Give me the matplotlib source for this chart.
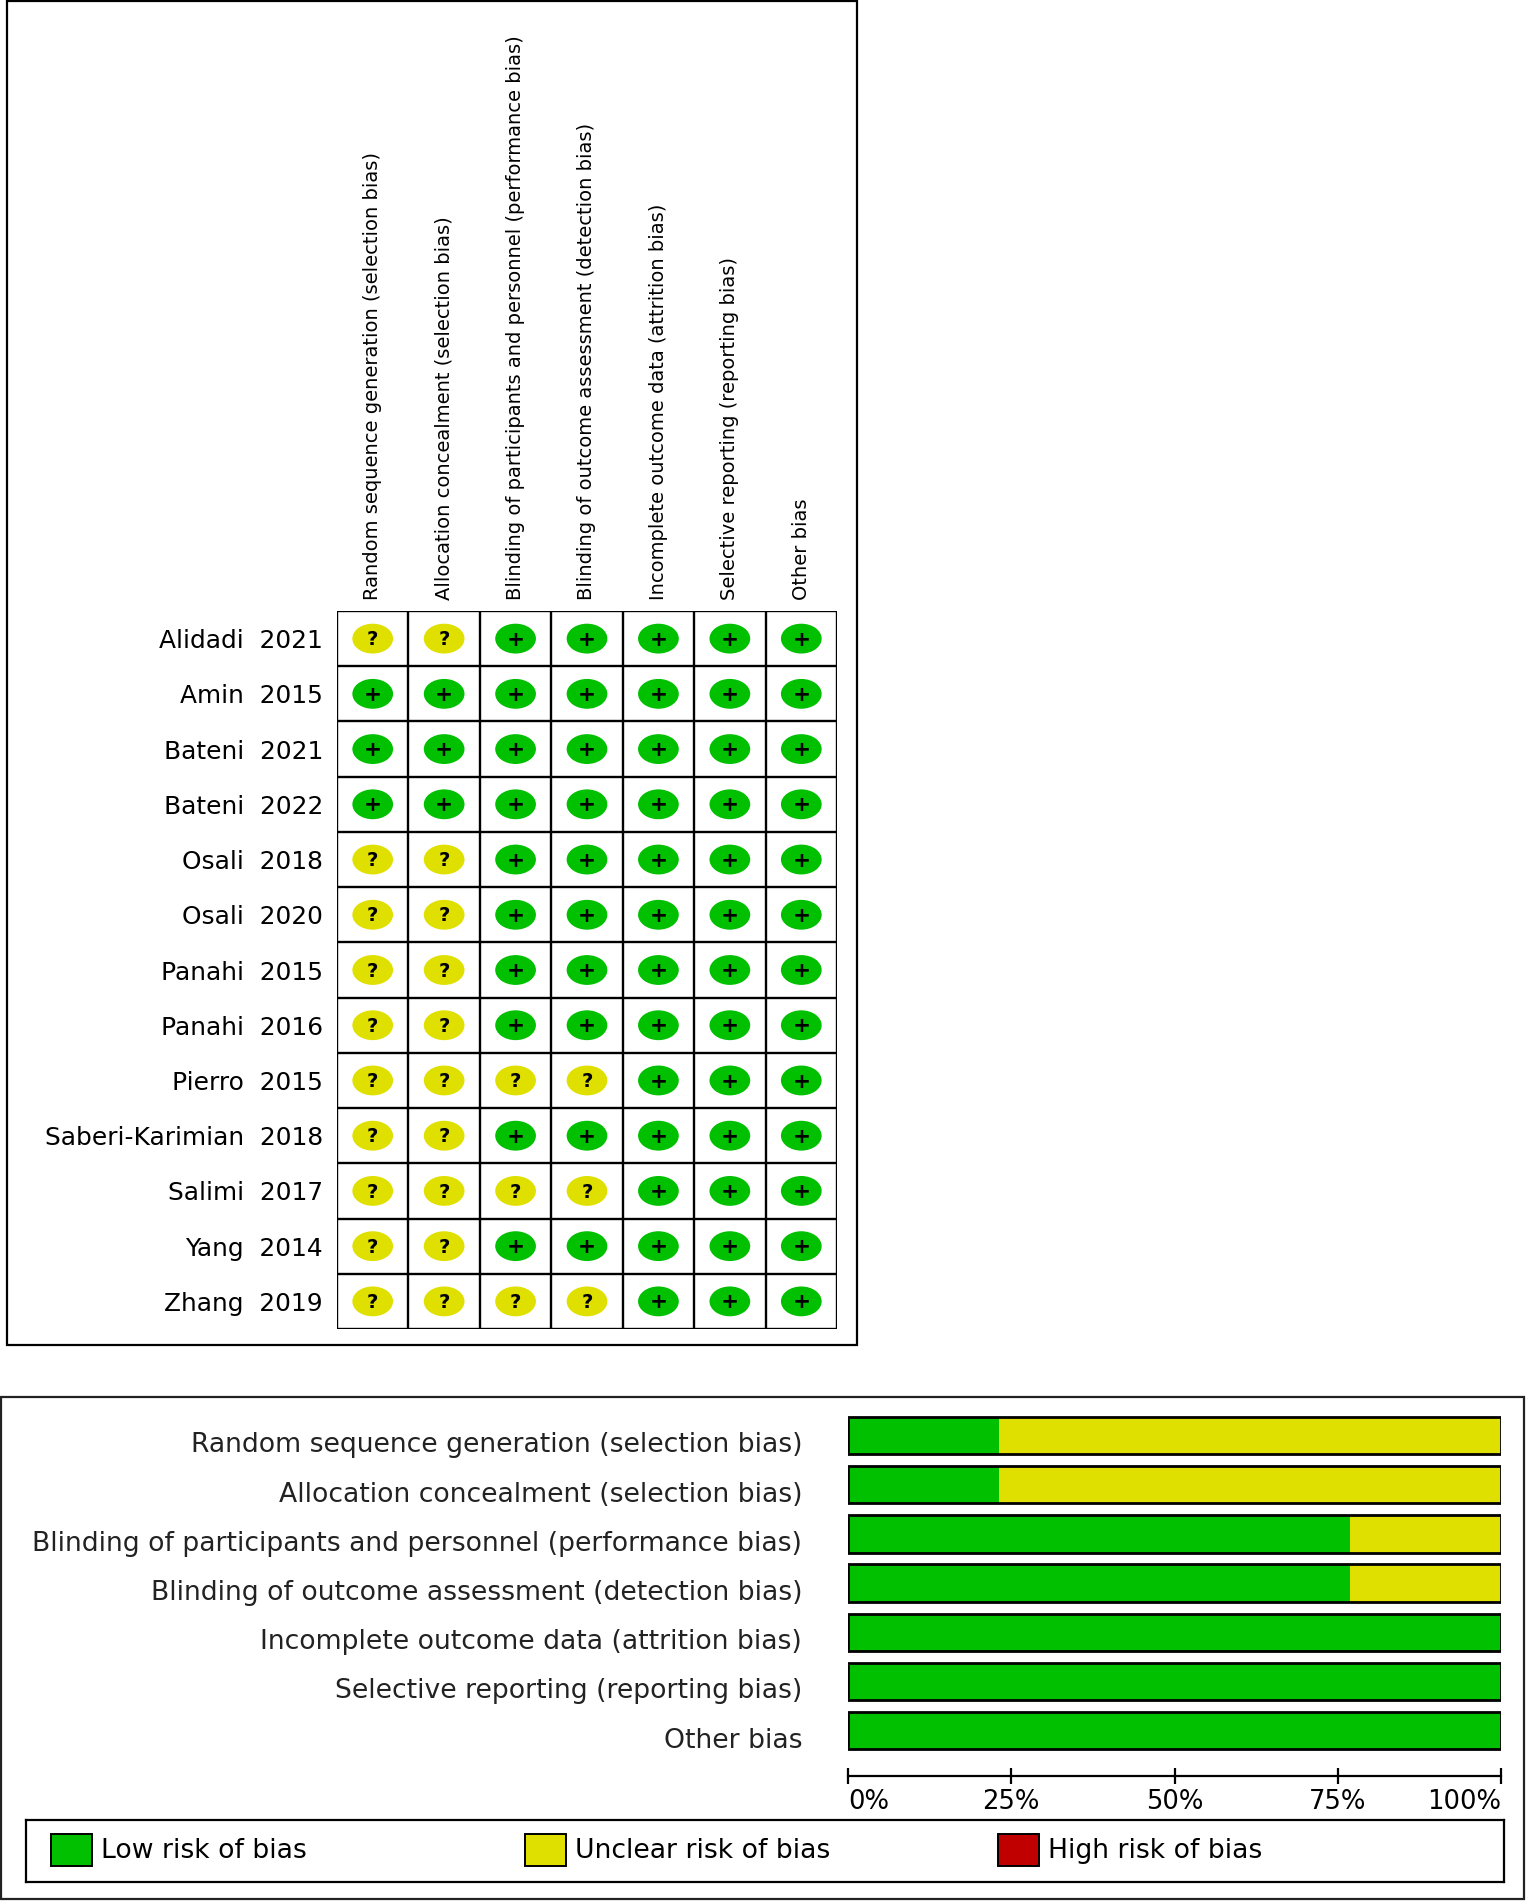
import matplotlib
matplotlib.use("Agg")
import matplotlib.pyplot as plt
import matplotlib.transforms as mtransforms
from matplotlib.patches import Ellipse, Rectangle

# ---------------- data ----------------
domains = [
    "Random sequence generation (selection bias)",
    "Allocation concealment (selection bias)",
    "Blinding of participants and personnel (performance bias)",
    "Blinding of outcome assessment (detection bias)",
    "Incomplete outcome data (attrition bias)",
    "Selective reporting (reporting bias)",
    "Other bias",
]
studies = [
    "Alidadi  2021", "Amin  2015", "Bateni  2021", "Bateni  2022",
    "Osali  2018", "Osali  2020", "Panahi  2015", "Panahi  2016",
    "Pierro  2015", "Saberi-Karimian  2018", "Salimi  2017",
    "Yang  2014", "Zhang  2019",
]
# '+' low risk, '?' unclear risk, '-' high risk
judgements = [
    ["?", "?", "+", "+", "+", "+", "+"],
    ["+", "+", "+", "+", "+", "+", "+"],
    ["+", "+", "+", "+", "+", "+", "+"],
    ["+", "+", "+", "+", "+", "+", "+"],
    ["?", "?", "+", "+", "+", "+", "+"],
    ["?", "?", "+", "+", "+", "+", "+"],
    ["?", "?", "+", "+", "+", "+", "+"],
    ["?", "?", "+", "+", "+", "+", "+"],
    ["?", "?", "?", "?", "+", "+", "+"],
    ["?", "?", "+", "+", "+", "+", "+"],
    ["?", "?", "?", "?", "+", "+", "+"],
    ["?", "?", "+", "+", "+", "+", "+"],
    ["?", "?", "?", "?", "+", "+", "+"],
]
low_pct = [23.1, 23.1, 76.9, 76.9, 100.0, 100.0, 100.0]
unclear_pct = [76.9, 76.9, 23.1, 23.1, 0.0, 0.0, 0.0]
high_pct = [0.0, 0.0, 0.0, 0.0, 0.0, 0.0, 0.0]
pct_ticks = [0, 25, 50, 75, 100]
pct_labels = ["0%", "25%", "50%", "75%", "100%"]
legend_labels = ["Low risk of bias", "Unclear risk of bias", "High risk of bias"]

GREEN = "#00C000"
YELLOW = "#E0E000"
RED = "#C00000"
sym_color = {"+": GREEN, "?": YELLOW, "-": RED}
legend_colors = [GREEN, YELLOW, RED]

W, H = 1528, 1901
fig = plt.figure(figsize=(W / 100, H / 100), dpi=100)
plt.rcParams["font.family"] = ["DejaVu Sans"]


def fax(x0, y0, x1, y1):
    """axes rect from pixel box (top-left origin)."""
    return [x0 / W, 1 - y1 / H, (x1 - x0) / W, (y1 - y0) / H]


# outer boxes
fig.patches.append(Rectangle((7 / W, 1 - 1345 / H), (857 - 7) / W, (1345 - 1) / H,
                             transform=fig.transFigure, fill=False, lw=1.6, ec="black"))
fig.patches.append(Rectangle((1 / W, 1 - 1899 / H), (1524 - 1) / W, (1899 - 1397) / H,
                             transform=fig.transFigure, fill=False, lw=1.6, ec="#222222"))

# ---------------- top: summary grid ----------------
ax = fig.add_axes(fax(337, 611, 837, 1329))
n_rows, n_cols = len(studies), len(domains)
ax.set_xlim(0, n_cols)
ax.set_ylim(n_rows, 0)
for i, row in enumerate(judgements):
    for j, v in enumerate(row):
        ax.add_patch(Ellipse((j + 0.5, i + 0.5), 0.57, 0.54, color=sym_color[v], lw=0))
        ax.text(j + 0.5, i + 0.52, v, ha="center", va="center",
                fontsize=14 if v == "?" else 15.5, fontweight="bold", color="black")
for k in range(n_cols + 1):
    ax.axvline(k, color="black", lw=1.7)
for k in range(n_rows + 1):
    ax.axhline(k, color="black", lw=1.7)
ax.set_xticks([j + 0.5 for j in range(n_cols)])
ax.set_xticklabels(domains, rotation=90, fontsize=14.0, va="bottom")
ax.xaxis.set_ticks_position("top")
ax.tick_params(axis="x", length=0, pad=8)
ax.set_yticks([i + 0.5 for i in range(n_rows)])
ax.set_yticklabels(studies, fontsize=17.9)
ax.tick_params(axis="y", length=0, pad=10)
for s in ax.spines.values():
    s.set_visible(False)

# ---------------- bottom: summary bars ----------------
bx = fig.add_axes(fax(848, 1410.8, 1501, 1755.3))
ypos = list(range(len(domains)))
bx.barh(ypos, low_pct, height=0.76, color=GREEN, lw=0)
bx.barh(ypos, unclear_pct, left=low_pct, height=0.76, color=YELLOW, lw=0)
left_high = [a + b for a, b in zip(low_pct, unclear_pct)]
bx.barh(ypos, high_pct, left=left_high, height=0.76, color=RED, lw=0)
bx.barh(ypos, [100] * len(domains), height=0.76, fill=False, edgecolor="black", lw=2.0)
bx.set_xlim(0, 100)
bx.set_ylim(len(domains) - 0.5, -0.5)
bx.set_yticks(ypos)
bx.set_yticklabels(domains, fontsize=19.2, color="#222222")
bx.tick_params(axis="y", length=0, pad=33)
shift = mtransforms.ScaledTranslation(0, -7 / 100, fig.dpi_scale_trans)
for lab in bx.get_yticklabels():
    lab.set_transform(lab.get_transform() + shift)
for k in ["top", "right", "left"]:
    bx.spines[k].set_visible(False)
bx.spines["bottom"].set_position(("outward", 14.9))
bx.spines["bottom"].set_linewidth(1.6)
bx.spines["bottom"].set_bounds(0, 100)
bx.set_xticks(pct_ticks)
bx.set_xticklabels(pct_labels, fontsize=18.6)
bx.tick_params(axis="x", direction="inout", length=11, width=1.6, pad=4)
tl = bx.get_xticklabels()
tl[0].set_ha("left")
tl[-1].set_ha("right")

# ---------------- legend ----------------
lx = fig.add_axes(fax(26, 1820, 1504, 1882))
lx.set_xlim(26, 1504)
lx.set_ylim(1882, 1820)
lx.set_xticks([])
lx.set_yticks([])
for s in lx.spines.values():
    s.set_linewidth(1.6)
for k, (lab, col) in enumerate(zip(legend_labels, legend_colors)):
    x0 = 51 + k * 473.7
    lx.add_patch(Rectangle((x0, 1834), 41, 32, fc=col, ec="black", lw=1.4))
    lx.text(x0 + 50, 1851, lab, ha="left", va="center", fontsize=19.2)

fig.savefig("out.png", dpi=100)
